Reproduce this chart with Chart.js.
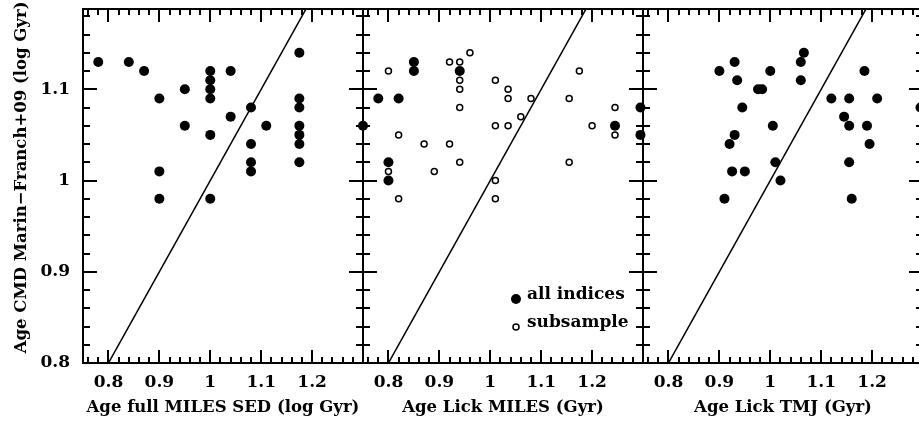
<!DOCTYPE html>
<html>
<head>
<meta charset="utf-8">
<script src="https://cdn.jsdelivr.net/npm/chart.js@4.4.0/dist/chart.umd.min.js"></script>
<style>
  html, body { margin: 0; padding: 0; background: #fff; overflow: hidden; width: 919px; height: 426px; }
  canvas { position: absolute; top: 0; }
</style>
</head>
<body>
<canvas id="c1" width="375" height="426" style="left:0px"></canvas>
<canvas id="c2" width="310" height="426" style="left:350px"></canvas>
<canvas id="c3" width="300" height="426" style="left:630px"></canvas>
<script>
// Axis ranges and tick labels
const xRange = [0.75, 1.30];
const yRange = [0.8, 1.188];
const xTicks = [0.8, 0.9, 1.0, 1.1, 1.2];
const yTicks = [0.8, 0.9, 1.0, 1.1];
const oneToOne = [0.75, 1.30];

// Panel 1: full MILES SED
const sedX = [0.78, 0.84, 0.87, 0.90, 0.90, 0.90, 0.95, 0.95, 1.00, 1.00, 1.00, 1.00, 1.00, 1.00,
              1.04, 1.04, 1.08, 1.08, 1.08, 1.08, 1.11, 1.175, 1.175, 1.175, 1.175, 1.175, 1.175, 1.175];
const sedY = [1.13, 1.13, 1.12, 1.09, 1.01, 0.98, 1.10, 1.06, 1.12, 1.11, 1.10, 1.09, 1.05, 0.98,
              1.12, 1.07, 1.08, 1.04, 1.02, 1.01, 1.06, 1.14, 1.09, 1.08, 1.06, 1.05, 1.04, 1.02];

// Panel 2: Lick MILES, all indices
const milesAllX = [0.75, 0.78, 0.82, 0.85, 0.85, 0.94, 0.80, 0.80, 1.295, 1.295, 1.245];
const milesAllY = [1.06, 1.09, 1.09, 1.13, 1.12, 1.12, 1.02, 1.00, 1.08, 1.05, 1.06];

// Panel 2: Lick MILES, subsample
const milesSubX = [0.80, 0.82, 0.80, 0.82, 0.87, 0.89, 0.92, 0.92, 0.94, 0.94, 0.94, 0.94, 0.94, 0.96,
                   1.01, 1.01, 1.01, 1.01, 1.035, 1.035, 1.035, 1.06, 1.08, 1.155, 1.155, 1.175, 1.20, 1.245, 1.245];
const milesSubY = [1.12, 1.05, 1.01, 0.98, 1.04, 1.01, 1.13, 1.04, 1.13, 1.11, 1.10, 1.08, 1.02, 1.14,
                   1.11, 1.06, 1.00, 0.98, 1.10, 1.09, 1.06, 1.07, 1.09, 1.09, 1.02, 1.12, 1.06, 1.08, 1.05];

// Panel 3: Lick TMJ
const tmjX = [0.90, 0.93, 0.935, 0.945, 0.93, 0.92, 0.925, 0.95, 0.91, 0.976, 0.984, 1.00, 1.005, 1.01, 1.02,
              1.06, 1.06, 1.066, 1.12, 1.155, 1.145, 1.155, 1.155, 1.16, 1.185, 1.21, 1.19, 1.195, 1.295];
const tmjY = [1.12, 1.13, 1.11, 1.08, 1.05, 1.04, 1.01, 1.01, 0.98, 1.10, 1.10, 1.12, 1.06, 1.02, 1.00,
              1.11, 1.13, 1.14, 1.09, 1.09, 1.07, 1.06, 1.02, 0.98, 1.12, 1.09, 1.06, 1.04, 1.08];

const FONT = "'DejaVu Serif', serif";

function zip(xs, ys) {
    return xs.map((x, i) => ({x: x, y: ys[i]}));
}

function filledSet(xs, ys) {
    return {type: 'scatter', data: zip(xs, ys), pointRadius: 5, pointBackgroundColor: '#000',
            pointBorderColor: '#000', pointBorderWidth: 0, clip: false};
}

function openSet(xs, ys) {
    return {type: 'scatter', data: zip(xs, ys), pointRadius: 3, pointBackgroundColor: '#fff',
            pointBorderColor: '#000', pointBorderWidth: 1.5, clip: false};
}

function diagonal() {
    return {type: 'line', data: zip(oneToOne, oneToOne), borderColor: '#000', borderWidth: 1.5,
            pointRadius: 0, clip: 0};
}

// no label overflow padding, keeps the boxes lined up
function noPad(s) {
    s.paddingTop = 0; s.paddingBottom = 0; s.paddingLeft = 0; s.paddingRight = 0;
}

// Frame and inward ticks (PGPLOT style box)
const frameTicks = {
    id: 'frameTicks',
    afterDatasetsDraw(chart) {
        const {ctx, chartArea: a, scales: {x, y}} = chart;
        ctx.save();
        ctx.strokeStyle = '#000';
        ctx.lineWidth = 2;
        ctx.beginPath();
        for (let i = 38; i <= 64; i++) {
            const px = Math.round(x.getPixelForValue(i / 50));
            const len = i % 5 === 0 ? 13 : 6;
            ctx.moveTo(px, a.bottom); ctx.lineTo(px, a.bottom - len);
            ctx.moveTo(px, a.top); ctx.lineTo(px, a.top + len);
        }
        for (let i = 41; i <= 59; i++) {
            const py = Math.round(y.getPixelForValue(i / 50));
            const len = i % 5 === 0 ? 14 : 7;
            ctx.moveTo(a.left, py); ctx.lineTo(a.left + len, py);
            ctx.moveTo(a.right, py); ctx.lineTo(a.right - len, py);
        }
        ctx.stroke();
        ctx.strokeRect(a.left, a.top, a.right - a.left, a.bottom - a.top);
        ctx.restore();
    }
};

// Legend inside the middle panel
const innerLegend = {
    id: 'innerLegend',
    afterDraw(chart) {
        const {ctx, chartArea: a} = chart;
        const mx = a.right - 127;
        ctx.save();
        ctx.fillStyle = '#000';
        ctx.beginPath();
        ctx.arc(mx, 299, 5, 0, Math.PI * 2);
        ctx.fill();
        ctx.beginPath();
        ctx.lineWidth = 1.5;
        ctx.strokeStyle = '#000';
        ctx.arc(mx, 327, 3, 0, Math.PI * 2);
        ctx.stroke();
        ctx.font = "bold 17px " + FONT;
        ctx.textBaseline = 'middle';
        ctx.textAlign = 'left';
        ctx.fillText('all indices', mx + 11, 295);
        ctx.fillText('subsample', mx + 11, 323);
        ctx.restore();
    }
};

function makeChart(id, datasets, xTitle, opts) {
    const showY = opts.showY;
    return new Chart(document.getElementById(id), {
        type: 'scatter',
        data: {datasets: datasets},
        options: {
            responsive: false,
            animation: false,
            events: [],
            layout: {padding: {left: showY ? 0 : opts.left, right: opts.right, top: 9, bottom: 0}},
            plugins: {legend: {display: false}, tooltip: {enabled: false}},
            scales: {
                x: {
                    type: 'linear', min: xRange[0], max: xRange[1],
                    afterBuildTicks: s => { s.ticks = xTicks.map(v => ({value: v})); },
                    afterFit: s => { s.height = 63; noPad(s); },
                    grid: {display: false, drawTicks: false},
                    border: {display: false},
                    ticks: {color: '#000', padding: 9, maxRotation: 0, autoSkip: false,
                            font: {family: FONT, size: 17, weight: 'bold'},
                            callback: v => String(+v.toFixed(2))},
                    title: {display: true, text: xTitle, color: '#000',
                            font: {family: FONT, size: 16.5, weight: 'bold', lineHeight: 1},
                            padding: {top: 0, bottom: 10}}
                },
                y: {
                    type: 'linear', min: yRange[0], max: yRange[1], display: showY,
                    afterBuildTicks: s => { s.ticks = yTicks.map(v => ({value: v})); },
                    afterFit: s => { s.width = showY ? 83 : 0; noPad(s); },
                    grid: {display: false, drawTicks: false},
                    border: {display: false},
                    ticks: {color: '#000', padding: 13,
                            font: {family: FONT, size: 17, weight: 'bold'},
                            callback: v => String(+v.toFixed(2))},
                    // leading spaces lift the title a little, as in the original
                    title: {display: showY, text: '   Age CMD Marin\u2212Franch+09 (log Gyr)', color: '#000',
                            font: {family: FONT, size: 16.5, weight: 'bold', lineHeight: 1},
                            padding: {top: 13, bottom: 0}}
                }
            }
        },
        plugins: opts.plugins
    });
}

makeChart('c1', [diagonal(), filledSet(sedX, sedY)],
          'Age full MILES SED (log Gyr)', {showY: true, right: 12, plugins: [frameTicks]});
makeChart('c2', [diagonal(), filledSet(milesAllX, milesAllY), openSet(milesSubX, milesSubY)],
          'Age Lick MILES (Gyr)', {showY: false, left: 13, right: 17, plugins: [frameTicks, innerLegend]});
makeChart('c3', [diagonal(), filledSet(tmjX, tmjY)],
          'Age Lick TMJ (Gyr)', {showY: false, left: 13, right: 7, plugins: [frameTicks]});
</script>
</body>
</html>
